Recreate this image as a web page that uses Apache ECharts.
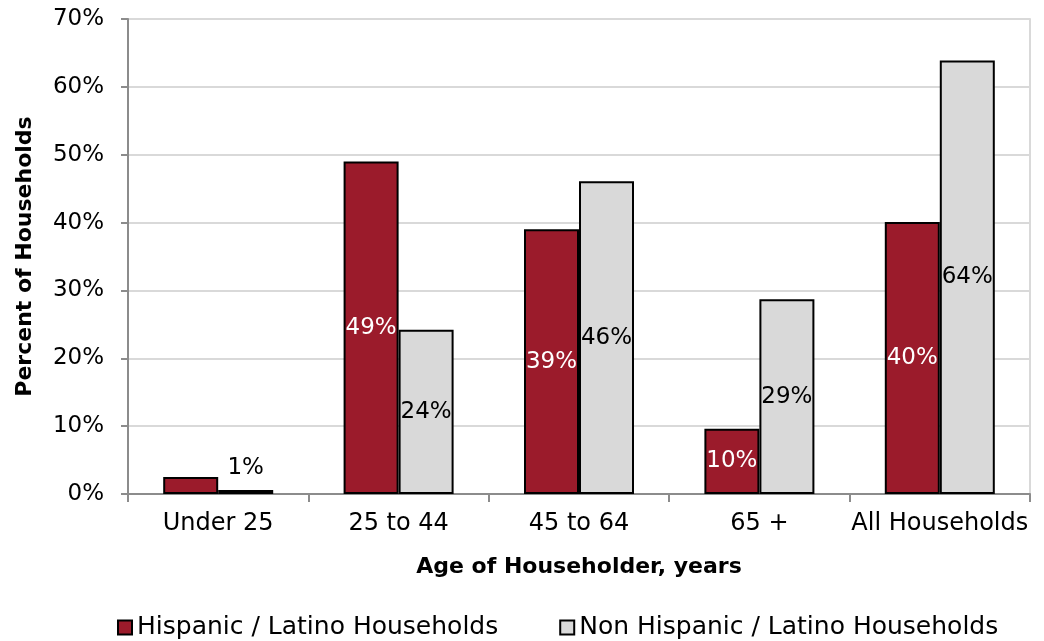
<!DOCTYPE html>
<html>
<head>
<meta charset="utf-8">
<script src="https://cdn.jsdelivr.net/npm/echarts@6/dist/echarts.min.js"></script>
<style>
  html, body { margin: 0; padding: 0; background: #fff; }
  #chart { width: 1044px; height: 641px; }
</style>
</head>
<body>
<div id="chart"></div>
<script>
// 数据
var categories = ['Under 25', '25 to 44', '45 to 64', '65 +', 'All Households']
var hispanic = [2.5, 49.0, 39.0, 9.6, 40.1]
var nonHispanic = [0.6, 24.2, 46.1, 28.7, 63.9]
var yTicks = [0, 10, 20, 30, 40, 50, 60, 70]

var FONT = 'DejaVu Sans'

var myChart = echarts.init(document.getElementById('chart'))

function pct(p) {
  return Math.round(p.value) + '%'
}

myChart.setOption({
  animation: false,
  textStyle: { fontFamily: FONT },
  grid: { left: 128, right: 14, top: 19, bottom: 147, containLabel: false },
  legend: {
    bottom: -4,
    left: 112,
    itemWidth: 14,
    itemHeight: 14,
    itemGap: 61,
    icon: 'rect',
    textStyle: { fontFamily: FONT, fontSize: 25, color: '#000' },
    data: ['Hispanic / Latino Households', 'Non Hispanic / Latino Households']
  },
  xAxis: {
    type: 'category',
    data: categories,
    boundaryGap: true,
    name: 'Age of Householder, years',
    nameLocation: 'middle',
    nameGap: 62,
    nameTextStyle: { fontFamily: FONT, fontSize: 22, fontWeight: 'bold', color: '#000' },
    axisLine: { lineStyle: { color: '#8c8c8c', width: 2 } },
    axisTick: { show: true, interval: 0, length: 8, lineStyle: { color: '#8c8c8c', width: 2 } },
    axisLabel: { interval: 0, fontFamily: FONT, fontSize: 24, color: '#000', margin: 18 }
  },
  yAxis: [
    {
      type: 'value',
      min: yTicks[0],
      max: yTicks[yTicks.length - 1],
      interval: 10,
      name: 'Percent of Households',
      nameLocation: 'middle',
      nameGap: 92,
      nameTextStyle: { fontFamily: FONT, fontSize: 22, fontWeight: 'bold', color: '#000' },
      axisLine: { show: true, lineStyle: { color: '#8c8c8c', width: 2 } },
      axisTick: { show: true, length: 7, lineStyle: { color: '#8c8c8c', width: 2 } },
      axisLabel: { fontFamily: FONT, fontSize: 23, color: '#000', margin: 24, formatter: '{value}%' },
      splitLine: { lineStyle: { color: '#d9d9d9', width: 2 } }
    },
    {
      // 右侧边框
      type: 'value',
      position: 'right',
      min: 0,
      max: 70,
      interval: 10,
      axisLine: { show: true, lineStyle: { color: '#d9d9d9', width: 2 } },
      axisTick: { show: false },
      axisLabel: { show: false },
      splitLine: { show: false }
    }
  ],
  series: [
    {
      name: 'Hispanic / Latino Households',
      type: 'bar',
      barWidth: 55,
      barGap: '0%',
      data: hispanic.map(function (v, i) {
        return i === 0 ? { value: v, label: { show: false } } : v
      }),
      itemStyle: { color: '#9b1b2b', borderColor: '#000', borderWidth: 2 },
      label: {
        show: true,
        position: 'inside',
        formatter: pct,
        fontFamily: FONT,
        fontSize: 23,
        color: '#fff'
      }
    },
    {
      name: 'Non Hispanic / Latino Households',
      type: 'bar',
      barWidth: 55,
      data: nonHispanic.map(function (v, i) {
        return i === 0 ? { value: v, label: { position: 'top', distance: 10 } } : v
      }),
      itemStyle: { color: '#d9d9d9', borderColor: '#000', borderWidth: 2 },
      label: {
        show: true,
        position: 'inside',
        formatter: pct,
        fontFamily: FONT,
        fontSize: 23,
        color: '#000'
      }
    }
  ]
})
</script>
</body>
</html>
